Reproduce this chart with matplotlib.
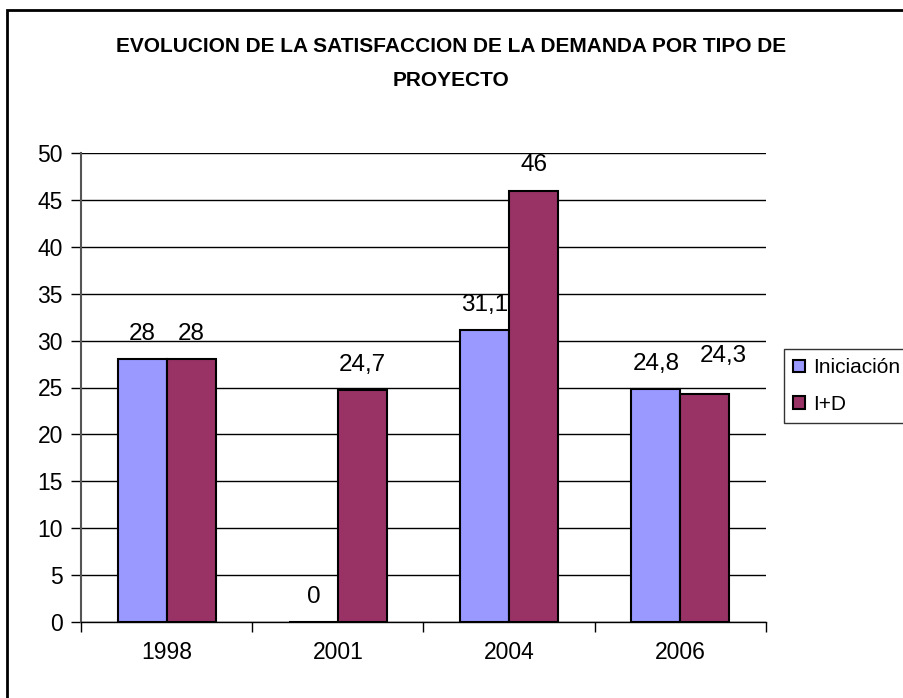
import numpy as np
import matplotlib
matplotlib.use('Agg')
import matplotlib.pyplot as plt
from matplotlib.patches import Rectangle

# datos del grafico
years = ['1998', '2001', '2004', '2006']
iniciacion = [28, 0, 31.1, 24.8]
imasd = [28, 24.7, 46, 24.3]
series_names = ['Iniciación', 'I+D']

plt.rcParams['font.family'] = ['Liberation Sans', 'DejaVu Sans']

fig = plt.figure(figsize=(9.04, 6.98), dpi=100)
ax = fig.add_axes([81 / 904, 1 - 622 / 698, (766 - 81) / 904, (622 - 153) / 698])

x = np.arange(len(years))
w = 0.2857
b1 = ax.bar(x - w / 2, iniciacion, w, color='#9999FF', edgecolor='black',
            linewidth=1.5, zorder=3, label=series_names[0])
b2 = ax.bar(x + w / 2, imasd, w, color='#993366', edgecolor='black',
            linewidth=1.5, zorder=3, label=series_names[1])

# etiquetas de datos, con coma decimal (la de 24,3 va desplazada, como en Excel)
extra = {(1, 3): (13, 9)}
for s, (bars, vals) in enumerate(((b1, iniciacion), (b2, imasd))):
    for i, (rec, v) in enumerate(zip(bars, vals)):
        txt = ('%g' % v).replace('.', ',')
        dx, dy = extra.get((s, i), (0, 0))
        ax.annotate(txt, (rec.get_x() + rec.get_width() / 2, v),
                    xytext=(dx, 14 + dy), textcoords='offset points',
                    ha='center', va='baseline', fontsize=17.5, zorder=4)

ax.set_ylim(0, 50)
ax.set_xlim(-0.5, len(years) - 0.5)
ax.set_yticks(np.arange(0, 51, 5))
ax.yaxis.grid(True, color='black', linewidth=1)
ax.set_axisbelow(True)

ax.set_xticks(np.arange(-0.5, len(years), 1.0))
ax.set_xticklabels([])
ax.set_xticks(x, minor=True)
ax.set_xticklabels(years, minor=True)
ax.tick_params(axis='x', which='major', length=7, width=1, direction='out')
ax.tick_params(axis='x', which='minor', length=0, pad=14, labelsize=16.5)
ax.tick_params(axis='y', length=7, width=1, direction='out', pad=6, labelsize=16.5)

ax.spines['top'].set_visible(False)
ax.spines['right'].set_visible(False)
ax.spines['left'].set_color('#555555')
ax.spines['left'].set_linewidth(1.5)
ax.spines['bottom'].set_linewidth(1)

# titulo
fig.text(0.499, 1 - 46 / 698, 'EVOLUCION DE LA SATISFACCION DE LA DEMANDA POR TIPO DE',
         ha='center', va='center', fontsize=15, fontweight='bold')
fig.text(0.499, 1 - 80 / 698, 'PROYECTO',
         ha='center', va='center', fontsize=15, fontweight='bold')

# leyenda
handles = [Rectangle((0, 0), 1, 1, facecolor='#9999FF', edgecolor='black', linewidth=1.5),
           Rectangle((0, 0), 1, 1, facecolor='#993366', edgecolor='black', linewidth=1.5)]
leg = fig.legend(handles, series_names, loc='upper left',
                 bbox_to_anchor=(784 / 904, 1 - 349 / 698), fontsize=15,
                 frameon=True, fancybox=False, handlelength=0.55, handleheight=0.55,
                 handletextpad=0.4, borderpad=0.45, labelspacing=0.85, borderaxespad=0)
leg.get_frame().set_edgecolor('black')
leg.get_frame().set_linewidth(1)

# marco de la figura
fig.patches.append(Rectangle((7 / 904, -0.05), 1.0, 1 - 10 / 698 + 0.05,
                             transform=fig.transFigure, fill=False,
                             edgecolor='black', linewidth=2, clip_on=False))

fig.savefig('out.png', dpi=100)
